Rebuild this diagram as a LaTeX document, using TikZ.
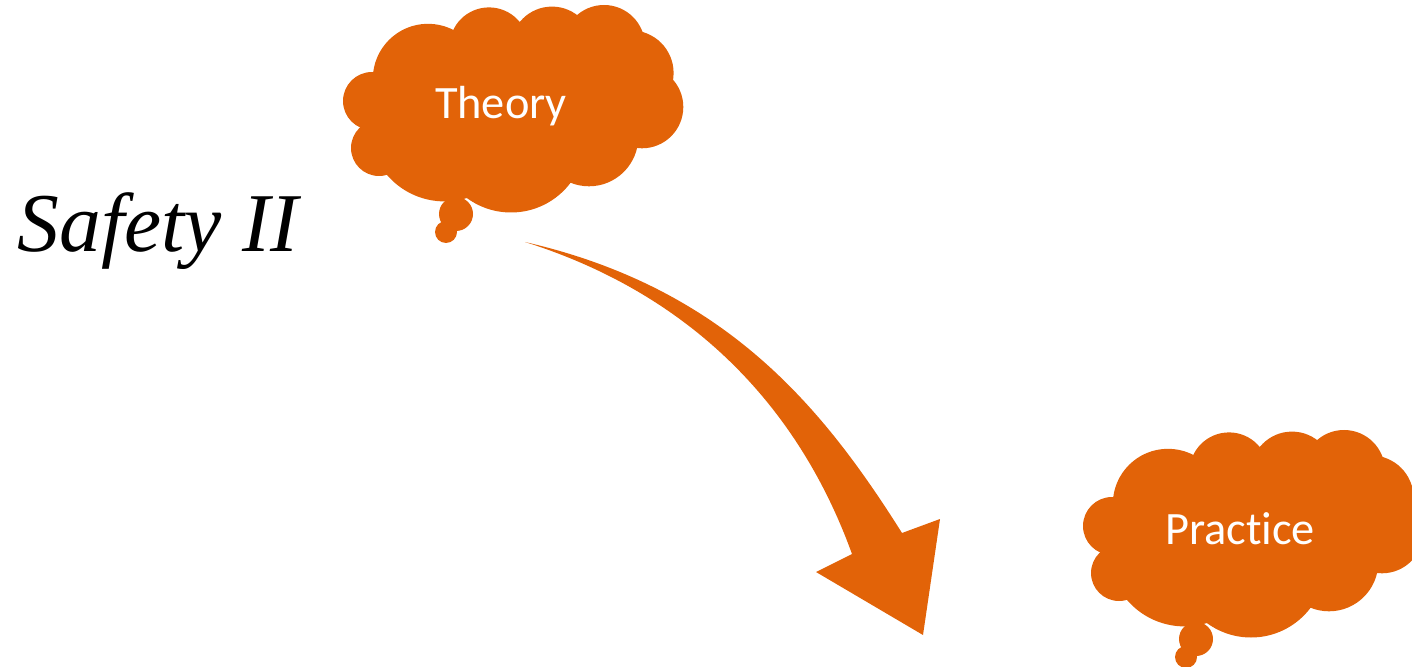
\documentclass[tikz,border=0pt]{standalone}
\usepackage{fontspec}
\setmainfont{Liberation Serif}
\newfontfamily\cloudfont[Ligatures=NoCommon]{Carlito}
\definecolor{burnt}{RGB}{226,99,8}
\tikzset{
  cloudtext/.style={text=white, font=\cloudfont\fontsize{23.2}{27}\selectfont, anchor=base, inner sep=0pt},
  titletext/.style={text=black, font=\itshape\fontsize{41.8}{48}\selectfont, anchor=base west, inner sep=0pt}
}
% thought cloud built from overlapping bumps plus two trailing bubbles
\newcommand{\thoughtcloud}{%
  \fill[burnt] (373,72) -- (453,30) -- (520,22) -- (577,15) -- (643,32) -- (673,80)
    -- (637,148) -- (570,183) -- (467,198) -- (387,175) -- (360,127) -- cycle;
  \fill[burnt] (372,101) circle[radius=29];
  \fill[burnt] (379,148) circle[radius=28];
  \fill[burnt] (444.5,125.7) circle[radius=75.7];
  \fill[burnt] (511,138) circle[radius=74.5];
  \fill[burnt] (589,137) circle[radius=49.3];
  \fill[burnt] (642,107) circle[radius=41.3];
  \fill[burnt] (631,73) circle[radius=42.6];
  \fill[burnt] (604,46) circle[radius=41];
  \fill[burnt] (552,48) circle[radius=41.4];
  \fill[burnt] (489,47) circle[radius=39.6];
  \fill[burnt] (428,79) circle[radius=55.2];
  \fill[burnt] (456,214) circle[radius=17];
  \fill[burnt] (446,232) circle[radius=11];
}
\begin{document}
\begin{tikzpicture}[x=0.5pt,y=-0.5pt]
  \useasboundingbox (0,0) rectangle (1412,667);
  \begin{scope}
    \clip (0,0) rectangle (1412,667);
    % upper cloud
    \thoughtcloud
    % lower cloud, same outline shifted
    \begin{scope}[shift={(740,425)}]
      \thoughtcloud
    \end{scope}
  \end{scope}
  \node[cloudtext] (theory) at (501,119) {Theory};
  \node[cloudtext] (practice) at (1240,545) {Practice};
  \node[titletext] (safety) at (17,252) {Safety II};
  % curved block arrow
  \coordinate (tail) at (525,242);
  \coordinate (neckout) at (902,533);
  \coordinate (barbout) at (940,519);
  \coordinate (tip) at (923,635);
  \coordinate (barbin) at (816,572);
  \coordinate (neckin) at (852,554);
  \fill[burnt] (tail) .. controls (725,288) and (822,406) .. (neckout)
    -- (barbout) -- (tip) -- (barbin) -- (neckin)
    .. controls (800.7,412) and (696.5,296) .. (tail) -- cycle;
\end{tikzpicture}
\end{document}
